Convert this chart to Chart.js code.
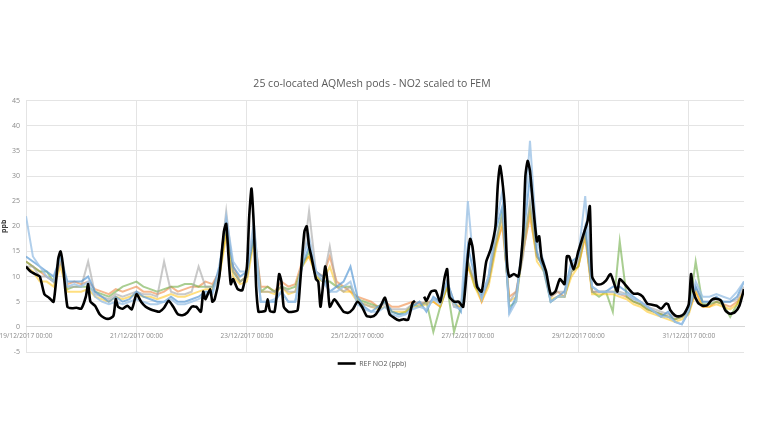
<!DOCTYPE html>
<html>
<head>
<meta charset="utf-8">
<script src="https://cdn.jsdelivr.net/npm/chart.js@4.4.0/dist/chart.umd.min.js"></script>
<style>
  html, body { margin: 0; background: #fff; }
</style>
</head>
<body>
<canvas id="chart" width="768" height="432"></canvas>
<script>
// x axis = hours since 19/12/2017 00:00
const dateLabels = ['19/12/2017 00:00', '21/12/2017 00:00', '23/12/2017 00:00', '25/12/2017 00:00',
  '27/12/2017 00:00', '29/12/2017 00:00', '31/12/2017 00:00'];

// reference analyser (FEM)
const refHours = [0, 2, 4, 6, 8, 10, 12, 14, 15, 16, 18, 20, 22, 24,
  26, 27, 28, 30, 32, 34, 36, 38, 39, 40, 42, 44, 46, 48,
  50, 52, 54, 56, 58, 60, 62, 64, 66, 68, 70, 72,
  74, 76, 77, 78, 80, 81, 82, 84, 86, 87, 88, 89, 90, 92, 94, 96,
  97, 98, 99, 100, 101, 102, 104, 105, 106, 108, 110, 111, 112, 114, 116, 118, 119, 120,
  121, 122, 123, 124, 126, 127, 128, 130, 131, 132, 134, 136, 138, 140, 142, 144,
  146, 148, 150, 152, 154, 156, 158, 160, 162, 164, 166, 168, 169, 170, 172, 173,
  174, 176, 178, 180, 182, 183, 184, 186, 188, 190, 192, 193,
  194, 195, 196, 198, 200, 202, 204, 205, 206, 207, 208, 209, 210, 212, 214, 216,
  217, 218, 219, 220, 222, 223, 224, 226, 228, 230, 232, 234, 235, 236, 238, 240,
  242, 244, 245, 246, 248, 250, 252, 254, 256, 257, 258, 260, 262, 264,
  266, 268, 270, 272, 274, 276, 278, 279, 280, 282, 284, 286, 288,
  289, 290, 292, 294, 296, 298, 300, 302, 304, 306, 308, 310, 312];
const refValues = [12, 11, 10.5, 10, 6.5, 5.8, 5, 13.5, 15, 12.5, 4, 3.7, 3.8, 3.6,
  6, 8.5, 5, 4.2, 2.5, 1.8, 1.6, 2.2, 5.5, 4, 3.6, 4.2, 3.5, 6.5,
  5, 4, 3.5, 3.2, 3, 3.8, 5.2, 4, 2.5, 2.3, 2.8, 4,
  4, 3, 7, 5.5, 7.5, 5, 5.5, 10, 19, 20.5, 14, 8.5, 9.5, 7.5, 7.3, 12,
  22, 27.5, 20, 8, 3, 3, 3.2, 5.5, 3.2, 3, 10.5, 9, 4, 3, 3, 3.3, 8, 14,
  19, 20, 16, 14, 9.5, 9, 4, 12, 9, 4, 5.5, 4.3, 3, 2.8, 3.5, 5,
  4, 2.2, 2, 2.5, 4, 5.8, 2.5, 1.8, 1.3, 1.5, 1.4, 4.8, 5.2, null, null, 6,
  5.2, 7, 7.2, 5, 10, 11.5, 6, 5, 5, 4, 14, 17.5,
  16, 12, 8, 7, 13, 15.5, 20, 28, 32, 29, 24, 13, 10, 10.5, 10, 18.5,
  30, 33, 31, 26, 17, 18, 13.8, 11, 6.5, 7, 9.5, 8.5, 14, 14, 11.5, 15,
  18, 21, 24, 10, 8.5, 8.5, 9.2, 10.5, 8, 7, 9.5, 8.6, 7.5, 6.6,
  6.6, 6, 4.6, 4.4, 4.2, 3.6, 4.6, 4.5, 3.3, 2.3, 2.1, 2.6, 4.5,
  10.5, 7, 4.8, 4.2, 4.3, 5.4, 5.6, 5.2, 3.2, 2.6, 2.9, 4.2, 7.5];

// AQMesh pods, sampled every 3 hours
const podHours = Array.from({ length: 105 }, (_, i) => i * 3);
const podBlue = [14, 13, 12, 11, 10, 14, 9, 9,
  9, 10, 7, 6, 5, 6, 5, 5.5,
  7, 6, 5.5, 5, 5, 6, 5, 5,
  5.5, 6, 7, 7, 12, 21, 12, 10,
  11, 18, 5, 5, 5, 7, 5, 5,
  12, 16, 11, 10, 7, 8, 9, 12,
  6, 4, 3, 4, 5, 3, 2.5, 2.5,
  4, 5, 3, 6, 5, 9, 5, 3,
  16, 10, 6, 10, 19, 24, 3, 6,
  17, 30, 15, 11, 5, 6, 7, 13,
  14, 20, 8, 7, 7, 8, 8, 7,
  6, 5, 4, 3, 2, 3, 1, 0.5,
  3, 8, 5, 5, 6, 5, 5, 6, 9];
const podOrange = [13, 12, 11, 10, 9, 13, 8.5, 9,
  8.5, 9, 7.5, 7, 6.5, 7.5, 7, 7.5,
  8, 7, 7, 6.5, 7, 8, 7, 7.5,
  8, 8, 9, 8.5, 11, 19, 12, 9,
  10, 19, 8, 8, 7, 9, 8, 8.5,
  13, 14, 11, 10, 14, 9, 8, 7,
  6, 5.5, 5, 4, 5, 4, 4, 4.5,
  5, 4.5, 5, 5, 4, 8, 4, 4,
  12, 9, 5, 9, 16, 20, 6, 7,
  15, 22, 14, 12, 6, 7, 6, 11,
  12, 18, 7, 7, 7, 7, 6.5, 6,
  5, 4.5, 3.5, 3, 2.5, 2, 1.5, 2,
  3, 7, 4, 4, 5, 4.5, 4, 5, 7];
const podGrey = [12, 12, 10, 10, 9, 13, 8, 8,
  8, 13, 6.5, 6, 5.5, 6.5, 6, 6.5,
  7, 6.5, 6.5, 6, 13, 7, 6.5, 6.5,
  7, 12, 8, 8, 11, 23, 11, 9,
  10, 20, 7, 7, 7, 8, 7, 7,
  12, 23, 11, 9, 16, 8, 7, 8,
  5, 4.5, 4, 4, 4.5, 3.5, 3.5, 3.5,
  4.5, 5, 4.5, 5.5, 5, 9, 5, 4.5,
  13, 9, 6, 9, 17, 22, 5, 7,
  14, 25, 14, 12, 6, 7, 7, 11,
  13, 19, 7, 7, 7, 7, 7, 6.5,
  5.5, 5, 4, 3.5, 3, 2.5, 2, 2,
  3.5, 8, 5, 5, 5.5, 5, 5, 5.5, 8];
const podYellow = [12, 11, 9, 9, 8, 12, 7, 7,
  7, 7.5, 6, 5.5, 5, 6, 5.5, 6,
  6.5, 6, 6, 5.5, 6, 6.5, 6, 6,
  6.5, 7, 7.5, 7.5, 10, 18, 10, 8.5,
  9, 17, 7, 7, 6.5, 8, 6.5, 7,
  12, 14, 10, 9, 12, 8, 7, 7,
  5, 4.5, 4, 3.5, 4, 3, 3, 3,
  4, 4, 4.5, 5, 4, 8, 4.5, 4,
  12, 8, 5, 8, 15, 21, 5, 6,
  15, 23, 13, 11, 5.5, 6, 6, 10,
  12, 18, 6.5, 6.5, 6.5, 6.5, 6, 5.5,
  4.5, 4, 3, 2.5, 2, 1.5, 1, 1.5,
  2.5, 7, 4, 4, 4.5, 4, 3.5, 4.5, 7];
const podGreen = [13, 12, 11, 11, 9, 14, 7.5, 8,
  8, 8, 7, 6.5, 6, 7, 8, 8.5,
  9, 8, 7.5, 7, 7.5, 8, 8, 8.5,
  8.5, 8, 8, 8, 10, 20, 11, 9,
  10, 18, 7, 8, 7, 8, 7.5, 8,
  12, 15, 10, 9, 9, 8, 8, 8,
  5.5, 5, 4.5, 4, 5, 3, 2.5, 3,
  4.5, 4, 5, -1, 4, 8, -1, 4,
  13, 8, 6, 9, 16, 23, 4, 5,
  16, 24, 14, 12, 5, 6, 6, 11,
  12, 19, 7, 6, 7, 3, 17, 6,
  5, 4.5, 3.5, 3, 2.5, 2, 1.5, 2,
  3, 13, 4.5, 4.5, 5, 4.5, 2, 4.5, 7];
const podLight = [22, 14, 12, 10, 9, 14, 8, 8.5,
  8, 9, 6, 5, 4.5, 5, 4.5, 5,
  5.5, 5, 4.5, 4.5, 5, 5.5, 4.5, 4.5,
  5, 5.5, 6.5, 6.5, 11, 22, 13, 11,
  11, 21, 5, 5, 5.5, 7, 5, 5,
  13, 18, 11, 9, 7, 7, 8, 9,
  4.5, 3.5, 3, 3, 4, 2.5, 2, 2.5,
  3.5, 4, 3.5, 5.5, 4.5, 9, 4, 3.5,
  25, 10, 5.5, 10, 20, 27, 2.5, 5,
  18, 37, 17, 13, 5, 6, 6, 12,
  14, 26, 8, 7, 7, 7, 6.5, 6.5,
  5.5, 5, 4, 3, 2, 2, 1, 0.5,
  3.5, 9, 6, 6, 6.5, 6, 5.5, 7, 9];

const pods = [
  { label: 'Pod A', values: podLight, color: 'rgba(157, 195, 230, 0.8)' },
  { label: 'Pod B', values: podBlue, color: 'rgba(91, 155, 213, 0.7)' },
  { label: 'Pod C', values: podGrey, color: 'rgba(165, 165, 165, 0.6)' },
  { label: 'Pod D', values: podYellow, color: 'rgba(255, 192, 0, 0.5)' },
  { label: 'Pod E', values: podGreen, color: 'rgba(112, 173, 71, 0.6)' },
  { label: 'Pod F', values: podOrange, color: 'rgba(237, 125, 49, 0.55)' }
];

const datasets = [{
  label: 'REF NO2 (ppb)',
  data: refHours.map((h, i) => ({ x: h, y: refValues[i] })),
  borderColor: '#000',
  backgroundColor: '#000',
  borderWidth: 2.6,
  pointRadius: 0,
  tension: 0.2,
  order: 0
}];
pods.forEach(p => {
  datasets.push({
    label: p.label,
    data: podHours.map((h, i) => ({ x: h, y: p.values[i] })),
    borderColor: p.color,
    borderWidth: 2,
    pointRadius: 0,
    order: 1
  });
});

const gridColor = '#e4e4e4';
const textColor = '#8a8a8a';

new Chart(document.getElementById('chart'), {
  type: 'line',
  data: { datasets },
  options: {
    responsive: false,
    animation: false,
    layout: { padding: { top: 78, right: 24, bottom: 55, left: 0 } },
    plugins: {
      title: {
        display: true,
        text: '25 co-located AQMesh pods - NO2 scaled to FEM',
        color: '#595959',
        font: { family: 'Open Sans', size: 10.5, weight: 'normal' },
        padding: { top: 0, bottom: 10 }
      },
      legend: {
        position: 'bottom',
        labels: {
          filter: item => item.datasetIndex === 0,
          usePointStyle: true,
          pointStyle: 'line',
          pointStyleWidth: 18,
          color: '#595959',
          font: { family: 'Open Sans', size: 7 },
          padding: 8
        }
      },
      tooltip: { enabled: false }
    },
    scales: {
      x: {
        type: 'linear',
        min: 0,
        max: 312,
        position: { y: 0 },
        ticks: {
          stepSize: 48,
          includeBounds: false,
          autoSkip: false,
          maxRotation: 0,
          padding: 5,
          color: textColor,
          font: { family: 'Open Sans', size: 6.5 },
          callback: v => dateLabels[v / 48]
        },
        grid: { color: gridColor, drawTicks: false },
        border: { color: '#d6d6d6' },
        afterFit: s => { s.paddingLeft = 0; s.paddingRight = 0; }
      },
      y: {
        min: -5,
        max: 45,
        ticks: {
          stepSize: 5,
          padding: 6,
          color: textColor,
          font: { family: 'Open Sans', size: 7 }
        },
        grid: { color: gridColor, drawTicks: false },
        border: { display: false },
        title: {
          display: true,
          text: 'ppb',
          color: '#404040',
          font: { family: 'Open Sans', size: 7, weight: 'bold' },
          padding: 0
        },
        afterFit: s => { s.width = 26; }
      }
    }
  }
});
</script>
</body>
</html>
